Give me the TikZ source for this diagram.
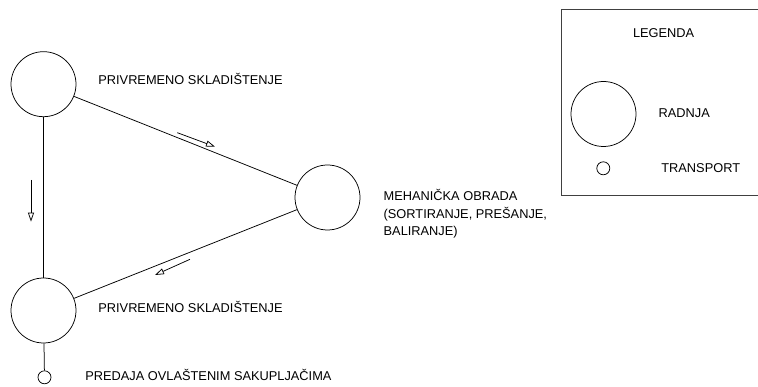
\documentclass[tikz,border=0pt]{standalone}
\usepackage{fontspec}
\setmainfont{Liberation Sans}
\usetikzlibrary{arrows.meta}
\begin{document}
\begin{tikzpicture}[x=1pt,y=-1pt,
  line width=0.75pt,
  actnode/.style={draw,circle,minimum size=65pt,inner sep=0pt},
  transnode/.style={draw,circle,minimum size=13pt,inner sep=0pt},
  lbl/.style={anchor=base west,inner sep=0pt,font=\fontsize{12.8}{17.5}\selectfont,align=left},
  flowarrow/.style={-{Triangle[open,length=9pt,width=6pt]},line width=0.75pt}]
\useasboundingbox (0,0) rectangle (758,387);
\clip (0,0) rectangle (758,387);
% main diagram
\node[actnode] (s1) at (43.5,84.2) {};
\node[actnode] (m) at (327.5,197.5) {};
\node[actnode] (s2) at (43.5,310.5) {};
\node[transnode] (t) at (44.5,377.3) {};
\draw (s1) -- (m);
\draw (m) -- (s2);
\draw (s1) -- (s2);
\draw (s2) -- (t);
% direction arrows
\coordinate (a1s) at (177.3,132.7);
\coordinate (a1e) at (215,146.7);
\coordinate (a2s) at (190,259.3);
\coordinate (a2e) at (155,275);
\coordinate (a3s) at (31,180);
\coordinate (a3e) at (31,221.7);
\draw[flowarrow] (a1s) -- (a1e);
\draw[flowarrow] (a2s) -- (a2e);
\draw[flowarrow] (a3s) -- (a3e);
% labels
\node[lbl] (l1) at (98,84.3) {PRIVREMENO SKLADIŠTENJE};
\node[lbl] (l2) at (383.3,235.7) {MEHANIČKA OBRADA\\(SORTIRANJE, PREŠANJE,\\BALIRANJE)};
\node[lbl] (l3) at (98,312.3) {PRIVREMENO SKLADIŠTENJE};
\node[lbl] (l4) at (85,380.7) {PREDAJA OVLAŠTENIM SAKUPLJAČIMA};
% legend
\draw[black!75] (561.5,9) rectangle (765,195);
\node[lbl] (lg) at (632.7,37.3) {LEGENDA};
\node[actnode] (lc) at (603.5,114) {};
\node[lbl] (lr) at (658.3,117.5) {RADNJA};
\node[transnode] (lt) at (603.3,168.3) {};
\node[lbl] (ltr) at (661,172.5) {TRANSPORT};
\end{tikzpicture}
\end{document}
